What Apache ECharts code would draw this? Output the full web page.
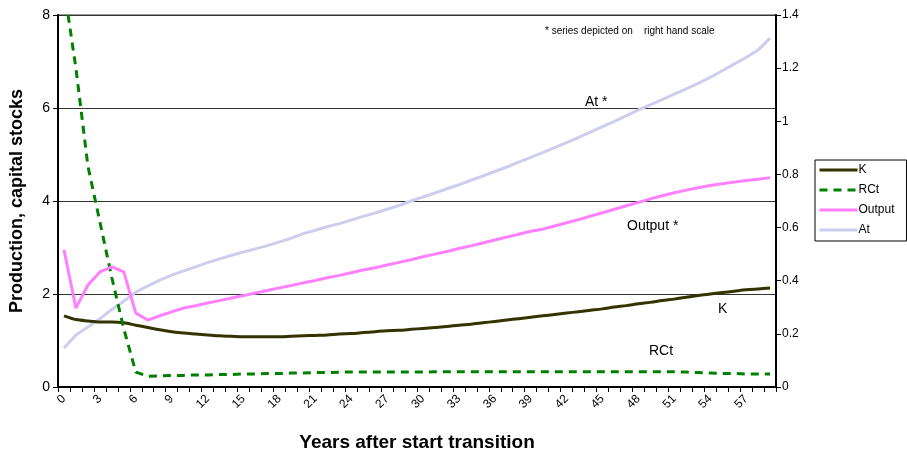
<!DOCTYPE html>
<html>
<head>
<meta charset="utf-8">
<script src="https://cdn.jsdelivr.net/npm/echarts@6/dist/echarts.min.js"></script>
<style>html,body{margin:0;padding:0;background:#fff;}#c{width:907px;height:456px;}</style>
</head>
<body>
<div id="c"></div>
<script>
var years = ['0','1','2','3','4','5','6','7','8','9','10','11','12','13','14','15','16','17','18','19','20','21','22','23','24','25','26','27','28','29','30','31','32','33','34','35','36','37','38','39','40','41','42','43','44','45','46','47','48','49','50','51','52','53','54','55','56','57','58','59'];
var leftTicks = [0, 2, 4, 6, 8];
var rightTicks = [0, 0.2, 0.4, 0.6, 0.8, 1, 1.2, 1.4];

var K = [1.53,1.45,1.42,1.40,1.40,1.38,1.33,1.28,1.23,1.19,1.16,1.14,1.12,1.10,1.09,1.08,1.08,1.08,1.08,1.09,1.10,1.11,1.12,1.14,1.15,1.17,1.19,1.21,1.22,1.24,1.26,1.28,1.30,1.33,1.35,1.38,1.41,1.44,1.47,1.50,1.53,1.56,1.59,1.62,1.65,1.68,1.72,1.75,1.79,1.82,1.86,1.89,1.93,1.97,2.00,2.03,2.06,2.09,2.11,2.13];
var RCt = [8.6,6.85,4.75,3.55,2.35,1.25,0.32,0.23,0.24,0.25,0.25,0.26,0.26,0.27,0.27,0.28,0.28,0.29,0.29,0.30,0.30,0.31,0.31,0.32,0.32,0.32,0.32,0.32,0.32,0.32,0.32,0.33,0.33,0.33,0.33,0.33,0.33,0.33,0.33,0.33,0.33,0.33,0.33,0.33,0.33,0.33,0.33,0.33,0.33,0.33,0.33,0.33,0.32,0.31,0.30,0.29,0.29,0.28,0.28,0.28];
var Output = [0.516,0.297,0.384,0.433,0.452,0.433,0.278,0.252,0.268,0.283,0.297,0.306,0.316,0.325,0.335,0.344,0.354,0.363,0.373,0.382,0.392,0.401,0.411,0.420,0.430,0.440,0.449,0.459,0.469,0.479,0.490,0.500,0.510,0.521,0.531,0.542,0.553,0.564,0.575,0.586,0.594,0.606,0.618,0.630,0.643,0.656,0.669,0.682,0.695,0.708,0.720,0.731,0.741,0.750,0.758,0.765,0.771,0.777,0.782,0.788];
var At = [0.147,0.196,0.226,0.257,0.292,0.323,0.357,0.380,0.402,0.421,0.437,0.452,0.468,0.482,0.496,0.508,0.520,0.532,0.546,0.560,0.577,0.590,0.603,0.615,0.628,0.642,0.655,0.669,0.683,0.700,0.715,0.730,0.746,0.761,0.778,0.794,0.811,0.828,0.846,0.864,0.882,0.901,0.920,0.939,0.959,0.980,1.000,1.021,1.043,1.062,1.082,1.102,1.122,1.143,1.165,1.190,1.215,1.240,1.268,1.313];

var FONT = '"Liberation Sans", Arial, sans-serif';
var chart = echarts.init(document.getElementById('c'), null, {renderer: 'canvas'});
chart.setOption({
  animation: false,
  backgroundColor: '#ffffff',
  grid: {left: 58, right: 131, top: 15, bottom: 69, containLabel: false, outerBoundsMode: 'none',
         show: true, borderColor: '#9a9a9a', borderWidth: 2, backgroundColor: 'transparent'},
  legend: {
    orient: 'vertical', left: 815, top: 160,
    padding: [4, 12, 5, 3], itemGap: 8, itemWidth: 38, itemHeight: 12,
    borderColor: '#000', borderWidth: 1, borderRadius: 0,
    itemStyle: {opacity: 0},
    lineStyle: {width: 3},
    textStyle: {fontFamily: FONT, fontSize: 12, color: '#000', padding: [0,0,0,-4]},
    data: ['K', 'RCt', 'Output', 'At']
  },
  xAxis: {
    type: 'category', data: years, boundaryGap: true,
    name: 'Years after start transition', nameLocation: 'middle', nameGap: 46,
    nameTextStyle: {fontFamily: FONT, fontSize: 19, fontWeight: 'bold', color: '#000'},
    axisLine: {lineStyle: {color: '#000', width: 2}},
    axisTick: {show: true, interval: 0, length: 5, lineStyle: {color: '#000', width: 1}},
    axisLabel: {interval: 2, rotate: 45, fontFamily: FONT, fontSize: 12, color: '#000', margin: 10},
    splitLine: {show: false}
  },
  yAxis: [{
    type: 'value', min: leftTicks[0], max: leftTicks[leftTicks.length-1], interval: 2,
    name: 'Production, capital stocks', nameLocation: 'middle', nameGap: 32,
    nameTextStyle: {fontFamily: FONT, fontSize: 18, fontWeight: 'bold', color: '#000'},
    axisLine: {show: true, lineStyle: {color: '#000', width: 2}},
    axisTick: {show: true, length: 5, lineStyle: {color: '#000'}},
    axisLabel: {fontFamily: FONT, fontSize: 14, color: '#000', margin: 8},
    splitLine: {show: true, lineStyle: {color: '#333', width: 1}}
  }, {
    type: 'value', min: rightTicks[0], max: rightTicks[rightTicks.length-1], interval: 0.2,
    position: 'right',
    axisLine: {show: true, lineStyle: {color: '#000', width: 2}},
    axisTick: {show: true, length: 5, lineStyle: {color: '#000'}},
    axisLabel: {fontFamily: FONT, fontSize: 12, color: '#000', margin: 6},
    splitLine: {show: false}
  }],
  series: [
    {name: 'At', type: 'line', yAxisIndex: 1, data: At, symbol: 'none', z: 2,
     lineStyle: {color: '#cdcdee', width: 3}, itemStyle: {color: '#cdcdee'}},
    {name: 'K', type: 'line', yAxisIndex: 0, data: K, symbol: 'none', smooth: 0.3, z: 3,
     lineStyle: {color: '#333300', width: 3}, itemStyle: {color: '#333300'}},
    {name: 'RCt', type: 'line', yAxisIndex: 0, data: RCt, symbol: 'none', z: 4,
     lineStyle: {color: '#008000', width: 3, type: [8, 6]}, itemStyle: {color: '#008000'}},
    {name: 'Output', type: 'line', yAxisIndex: 1, data: Output, symbol: 'none', z: 5,
     lineStyle: {color: '#ff80ff', width: 3}, itemStyle: {color: '#ff80ff'}}
  ],
  graphic: [
    {type: 'text', left: 545, top: 26, style: {text: '* series depicted on    right hand scale', font: '10px ' + FONT, fill: '#000'}},
    {type: 'text', left: 585, top: 95, style: {text: 'At *', font: '14px ' + FONT, fill: '#000'}},
    {type: 'text', left: 627, top: 219, style: {text: 'Output *', font: '14px ' + FONT, fill: '#000'}},
    {type: 'text', left: 718, top: 302, style: {text: 'K', font: '14px ' + FONT, fill: '#000'}},
    {type: 'text', left: 649, top: 344, style: {text: 'RCt', font: '14px ' + FONT, fill: '#000'}}
  ]
});
</script>
</body>
</html>
